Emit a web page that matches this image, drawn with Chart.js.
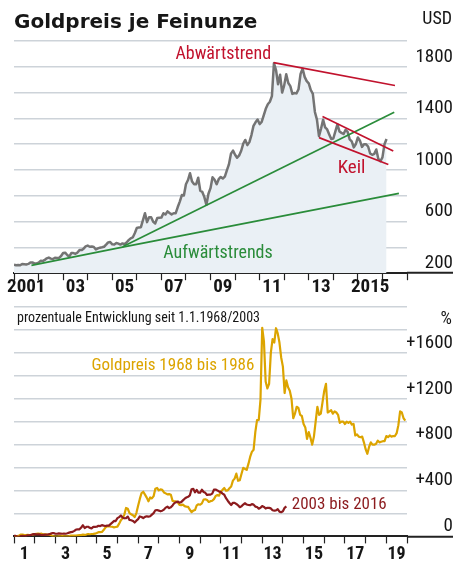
<!DOCTYPE html>
<html>
<head>
<meta charset="utf-8">
<script src="https://cdn.jsdelivr.net/npm/chart.js@4.4.1/dist/chart.umd.min.js"></script>
<style>
    html, body { margin: 0; padding: 0; background: #fff; }
    #page { position: relative; width: 463px; height: 565px; overflow: hidden; }
    .box { position: absolute; left: 0; width: 463px; }
    #topBox { top: 0; height: 295px; }
    #bottomBox { top: 295px; height: 270px; }
    .txt { position: absolute; white-space: nowrap; color: #161616; line-height: 1;
           font-family: 'Roboto Condensed', 'DejaVu Sans Condensed', sans-serif; }
    #title { left: 14px; top: 9px; font: bold 20px 'DejaVu Sans', sans-serif; }
    #usd { right: 11px; top: 9px; font-size: 18px; }
    #subtitle { left: 17px; top: 310px; font-size: 14px; }
    #pct { right: 11px; top: 309px; font-size: 18px; }
</style>
</head>
<body>
<div id="page">
    <div class="box" id="topBox"><canvas id="topChart" width="463" height="295"></canvas></div>
    <div class="box" id="bottomBox"><canvas id="bottomChart" width="463" height="270"></canvas></div>
    <div class="txt" id="title">Goldpreis je Feinunze</div>
    <div class="txt" id="usd">USD</div>
    <div class="txt" id="subtitle">prozentuale Entwicklung seit 1.1.1968/2003</div>
    <div class="txt" id="pct">%</div>
</div>
<script>
// ---------- data ----------

// monthly gold price in USD, Jan 2001 .. Mar 2016
const goldStartYear = 2001;
const goldUsd = [
    266, 262, 263, 261, 272, 270, 268, 272, 283, 283, 276, 276,          // 2001
    282, 296, 294, 303, 315, 321, 313, 310, 319, 317, 319, 333,          // 2002
    357, 359, 341, 328, 356, 356, 351, 360, 379, 379, 390, 408,          // 2003
    414, 405, 407, 403, 384, 392, 398, 401, 405, 421, 439, 442,          // 2004
    424, 423, 434, 429, 422, 431, 425, 438, 456, 470, 477, 510,          // 2005
    550, 555, 557, 611, 665, 596, 634, 633, 598, 586, 628, 630,          // 2006
    631, 665, 655, 679, 667, 656, 665, 665, 713, 755, 806, 803,          // 2007
    890, 922, 975, 910, 889, 890, 940, 839, 830, 790, 730, 816,          // 2008
    859, 943, 924, 890, 929, 946, 934, 949, 997, 1043, 1127, 1150,       // 2009
    1118, 1095, 1113, 1149, 1205, 1233, 1193, 1216, 1271, 1342, 1370, 1391, // 2010
    1356, 1373, 1424, 1474, 1510, 1529, 1573, 1828, 1775, 1665, 1739, 1600, // 2011
    1656, 1742, 1674, 1650, 1590, 1597, 1594, 1626, 1745, 1785, 1722, 1689, // 2012
    1672, 1620, 1590, 1450, 1390, 1262, 1320, 1390, 1330, 1314, 1276, 1240, // 2013
    1244, 1300, 1354, 1299, 1288, 1279, 1311, 1295, 1237, 1222, 1175, 1201, // 2014
    1252, 1227, 1179, 1199, 1199, 1182, 1128, 1118, 1125, 1159, 1086, 1068, // 2015
    1098, 1200, 1240                                                      // 2016
];

// trend lines, [year, USD]
const downTrend = [[2011.57, 1833], [2016.51, 1655]];
const wedgeUpper = [[2013.56, 1414], [2016.44, 1148]];
const wedgeLower = [[2013.42, 1251], [2016.24, 1042]];
const upTrendSteep = [[2005.42, 405], [2016.48, 1448]];
const upTrendFlat = [[2001.71, 261], [2005.42, 402], [2016.67, 819]];

const topLabelYears = [2001, 2003, 2005, 2007, 2009, 2011, 2013, 2015];
const topLabelTexts = ['2001', '03', '05', '07', '09', '11', '13', '2015'];
const topYLabels = [200, 600, 1000, 1400, 1800];

// percent change since 1.1.1968, monthly Jan 1968 .. Dec 1986
const pct1968 = [
    0, 0, 4, 8, 16, 16, 12, 11, 14, 12, 13, 17,                          // 1968
    20, 22, 24, 23, 24, 17, 18, 16, 15, 14, 6, 0,                        // 1969
    -1, -1, 0, 1, 2, 1, 0, 1, 3, 7, 6, 6,                                // 1970
    8, 10, 11, 11, 15, 14, 16, 21, 19, 21, 22, 24,                       // 1971
    30, 37, 37, 39, 55, 76, 87, 90, 86, 84, 79, 82,                      // 1972
    85, 111, 140, 157, 190, 248, 241, 203, 193, 184, 169, 203,           // 1973
    267, 327, 378, 389, 364, 338, 306, 339, 331, 351, 416, 422,          // 1974
    401, 410, 406, 383, 375, 366, 369, 363, 310, 306, 305, 296,          // 1975
    274, 273, 277, 264, 260, 257, 234, 211, 225, 230, 270, 280,          // 1976
    276, 288, 321, 324, 317, 300, 307, 311, 325, 353, 360, 356,          // 1977
    392, 406, 422, 398, 401, 420, 435, 486, 504, 547, 485, 490,          // 1978
    546, 598, 588, 580, 632, 693, 737, 755, 909, 1013, 1015, 1193,       // 1979
    1819, 1700, 1350, 1290, 1330, 1600, 1720, 1690, 1815, 1770, 1690, 1560, // 1980
    1480, 1250, 1360, 1300, 1270, 1200, 1030, 1070, 1130, 1120, 1060, 1050, // 1981
    980, 950, 850, 910, 860, 800, 870, 1000, 1130, 1060, 1070, 1170,     // 1982
    1270, 1330, 1080, 1090, 1100, 1070, 1090, 1080, 1060, 990, 1000, 1000, // 1983
    980, 1000, 990, 1000, 975, 980, 880, 890, 870, 865, 870, 820,        // 1984
    760, 720, 780, 820, 800, 800, 805, 835, 820, 825, 830, 830,          // 1985
    875, 865, 880, 870, 875, 875, 900, 970, 1090, 1080, 1030, 1010       // 1986
];

// percent change since 1.1.2003, monthly Jan 2003 .. Mar 2016
const pct2003 = [
    4, 4, -1, -5, 3, 4, 2, 5, 10, 10, 13, 19,                            // 2003
    20, 18, 18, 17, 12, 14, 16, 16, 18, 22, 28, 29,                      // 2004
    23, 23, 26, 25, 23, 25, 23, 27, 33, 37, 39, 48,                      // 2005
    60, 61, 62, 78, 97, 73, 84, 84, 74, 70, 83, 83,                      // 2006
    84, 93, 90, 98, 94, 91, 94, 94, 107, 120, 135, 134,                  // 2007
    159, 168, 182, 165, 158, 159, 173, 144, 141, 135, 121, 137,          // 2008
    150, 174, 169, 159, 170, 175, 172, 176, 190, 203, 228, 230,          // 2009
    225, 219, 224, 234, 251, 259, 247, 254, 270, 290, 298, 304,          // 2010
    294, 299, 314, 329, 339, 345, 357, 411, 415, 384, 406, 381,          // 2011
    382, 407, 387, 380, 361, 364, 364, 373, 407, 408, 401, 391,          // 2012
    386, 373, 363, 333, 311, 291, 274, 293, 292, 283, 271, 255,          // 2013
    262, 278, 289, 278, 274, 272, 281, 277, 260, 256, 242, 249,          // 2014
    264, 257, 243, 249, 249, 244, 228, 225, 227, 237, 216, 211,          // 2015
    219, 249, 262                                                         // 2016
];

const bottomLabelTexts = ['1', '3', '5', '7', '9', '11', '13', '15', '17', '19'];
const bottomYLabels = [0, 400, 800, 1200, 1600];

// ---------- styles ----------
const FONT = "'Roboto Condensed', 'DejaVu Sans Condensed', sans-serif";
const INK = '#161616';
const GRID = '#cdd3d9';
const RED = '#c1122d';
const GREEN = '#2a8c3a';
const GRAY = '#747474';
const FILL = '#eaf0f5';
const GOLD = '#dca400';
const DARKRED = '#8c1b1e';
const CLEAR = 'rgba(0,0,0,0)';

Chart.defaults.font.family = FONT;

// draws the series captions at data coordinates
const seriesLabels = {
    id: 'seriesLabels',
    afterDatasetsDraw(chart, args, opts) {
        const { ctx, scales } = chart;
        ctx.save();
        ctx.textBaseline = 'middle';
        (opts.items || []).forEach(item => {
            ctx.font = item.size + 'px ' + FONT;
            ctx.fillStyle = item.color;
            ctx.textAlign = item.align;
            ctx.fillText(item.text, scales.x.getPixelForValue(item.x), scales.y.getPixelForValue(item.y));
        });
        ctx.restore();
    }
};

function trendSet(points, color) {
    return {
        data: points.map(p => ({ x: p[0], y: p[1] })),
        borderColor: color,
        borderWidth: 1.7,
        pointRadius: 0,
        fill: false,
        tension: 0
    };
}

function seriesSet(values, startX, color, width) {
    return {
        data: values.map((v, i) => ({ x: startX + i / 12, y: v })),
        borderColor: color,
        borderWidth: width,
        pointRadius: 0,
        fill: false,
        tension: 0,
        borderJoinStyle: 'round'
    };
}

function xAxis(min, max, labelOffset, padding, size, labelFor) {
    return {
        type: 'linear',
        min: min,
        max: max,
        afterFit: s => { s.paddingLeft = 0; s.paddingRight = 0; },
        ticks: {
            stepSize: 1,
            autoSkip: false,
            maxRotation: 0,
            labelOffset: labelOffset,
            padding: padding,
            color: INK,
            font: { size: size, weight: 'bold' },
            callback: labelFor
        },
        grid: { drawOnChartArea: false, drawTicks: true, tickLength: 7, tickColor: '#222', tickWidth: 1.2 },
        border: { display: true, color: '#222', width: 2 }
    };
}

function yAxis(min, max, labelFor) {
    const isBase = ctx => ctx.tick && ctx.tick.value === min;
    return {
        position: 'right',
        min: min,
        max: max,
        afterFit: s => { s.width = 46; s.paddingTop = 0; s.paddingBottom = 0; },
        ticks: {
            stepSize: 200,
            autoSkip: false,
            labelOffset: -10,
            crossAlign: 'far',
            color: INK,
            font: { size: 19 },
            callback: labelFor
        },
        grid: {
            color: ctx => isBase(ctx) ? CLEAR : GRID,
            lineWidth: 1.5,
            drawTicks: true,
            tickLength: 46,
            tickColor: ctx => isBase(ctx) ? '#222' : CLEAR,
            tickWidth: 2
        },
        border: { display: false }
    };
}

// ---------- top chart: USD ----------
const goldSet = seriesSet(goldUsd, goldStartYear, GRAY, 2.5);
goldSet.fill = 'start';
goldSet.backgroundColor = FILL;

new Chart(document.getElementById('topChart'), {
    type: 'line',
    data: {
        datasets: [
            trendSet(downTrend, RED),
            trendSet(wedgeUpper, RED),
            trendSet(wedgeLower, RED),
            trendSet(upTrendSteep, GREEN),
            trendSet(upTrendFlat, GREEN),
            goldSet
        ]
    },
    options: {
        responsive: false,
        animation: false,
        layout: { padding: { left: 14, right: 10, top: 41, bottom: 0 } },
        plugins: {
            legend: { display: false },
            tooltip: { enabled: false },
            seriesLabels: {
                items: [
                    { text: 'Abwärtstrend', x: 2011.47, y: 1894, color: RED, align: 'right', size: 18 },
                    { text: 'Keil', x: 2014.18, y: 1014, color: RED, align: 'left', size: 19 },
                    { text: 'Aufwärtstrends', x: 2007.08, y: 353, color: GREEN, align: 'left', size: 18 }
                ]
            }
        },
        scales: {
            x: xAxis(2001, 2017, 12.25, -4, 19, v => {
                const i = topLabelYears.indexOf(v);
                return i < 0 ? '' : topLabelTexts[i];
            }),
            y: yAxis(200, 2000, v => topYLabels.includes(v) ? String(v) : '')
        }
    },
    plugins: [seriesLabels]
});

// ---------- bottom chart: percent ----------
new Chart(document.getElementById('bottomChart'), {
    type: 'line',
    data: {
        datasets: [
            seriesSet(pct2003, 0, DARKRED, 2.2),
            seriesSet(pct1968, 0, GOLD, 2.2)
        ]
    },
    options: {
        responsive: false,
        animation: false,
        layout: { padding: { left: 14, right: 10, top: 12, bottom: 0 } },
        plugins: {
            legend: { display: false },
            tooltip: { enabled: false },
            seriesLabels: {
                items: [
                    { text: 'Goldpreis 1968 bis 1986', x: 11.62, y: 1491, color: GOLD, align: 'right', size: 17 },
                    { text: '2003 bis 2016', x: 13.43, y: 278, color: DARKRED, align: 'left', size: 17 }
                ]
            }
        },
        scales: {
            x: xAxis(0, 19, 10.3, 0, 18, v => v % 2 === 0 ? bottomLabelTexts[v / 2] : ''),
            y: yAxis(0, 2000, v => bottomYLabels.includes(v) ? (v === 0 ? '0' : '+' + v) : '')
        }
    },
    plugins: [seriesLabels]
});
</script>
</body>
</html>
